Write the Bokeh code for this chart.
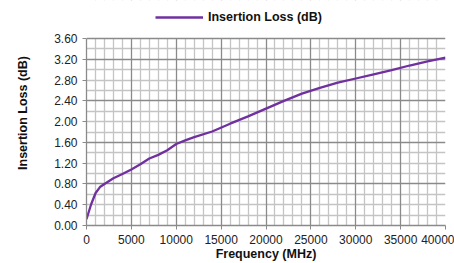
from bokeh.plotting import figure
from bokeh.models import (Range1d, FixedTicker, Grid, Legend, LegendItem, NumeralTickFormatter,
                          BoxAnnotation, Span)
from bokeh.embed import file_html
from bokeh.resources import INLINE

freq_mhz = [0, 500, 1000, 1500, 2000, 3000, 4000, 5000, 6000, 7000, 8000, 9000, 10000,
            11000, 12000, 14000, 16000, 18000, 20000, 22000, 24000, 26000, 28000,
            30000, 32000, 34000, 36000, 38000, 40000]
insertion_loss_db = [0.12, 0.40, 0.62, 0.74, 0.80, 0.91, 0.99, 1.08, 1.18, 1.29, 1.36, 1.45, 1.57,
                     1.64, 1.70, 1.81, 1.96, 2.10, 2.25, 2.40, 2.54, 2.65, 2.75,
                     2.83, 2.91, 2.99, 3.08, 3.16, 3.23]

Y_MAX = 3.6
X_MAX = 40000
y_ticks = [0.0, 0.4, 0.8, 1.2, 1.6, 2.0, 2.4, 2.8, 3.2, 3.6]
y_major_grid = [0.0, 0.8, 1.6, 2.4, 3.2]
y_minor_grid = [0.2, 0.4, 0.6, 1.0, 1.2, 1.4, 1.8, 2.0, 2.2, 2.6, 2.8, 3.0, 3.4]
x_ticks = [0, 5000, 10000, 15000, 20000, 25000, 30000, 35000, 40000]
x_minor_grid = [k * 1000 for k in range(41) if k % 5 != 0]

FONT = "Liberation Sans"
PURPLE = "#7030A0"
DARK = "#8a8a8a"
LIGHT = "#c4c4c4"

PLOT_H = 187          # pixel height of the 0..3.6 plotting area
TOP_H = 38            # pixel room above it for the legend
FRAME_H = PLOT_H + TOP_H
p = figure(frame_width=359, frame_height=FRAME_H, output_backend="svg", toolbar_location=None,
           x_range=Range1d(0, X_MAX), y_range=Range1d(0, Y_MAX * FRAME_H / PLOT_H),
           min_border_left=86, min_border_right=9, min_border_top=0, min_border_bottom=30)

p.xgrid.visible = False
p.ygrid.visible = False
p.outline_line_color = None
p.background_fill_color = "white"
p.border_fill_color = "white"

p.add_layout(Grid(dimension=0, ticker=FixedTicker(ticks=x_minor_grid),
                  grid_line_color=LIGHT, grid_line_width=1.3))
p.add_layout(Grid(dimension=1, ticker=FixedTicker(ticks=y_minor_grid),
                  grid_line_color=LIGHT, grid_line_width=1.3))
p.add_layout(Grid(dimension=0, ticker=FixedTicker(ticks=x_ticks),
                  grid_line_color=DARK, grid_line_width=1.3))
p.add_layout(Grid(dimension=1, ticker=FixedTicker(ticks=y_major_grid),
                  grid_line_color=DARK, grid_line_width=1.3))

r = p.line(freq_mhz, insertion_loss_db, line_color=PURPLE, line_width=2.3)

# white area above the plotting region (holds the legend)
p.add_layout(BoxAnnotation(bottom=Y_MAX, fill_color="white", fill_alpha=1.0,
                           line_color=None, level="annotation"))
p.add_layout(Span(location=Y_MAX, dimension="width", line_color=DARK, line_width=1.3,
                  level="annotation"))

p.xaxis.ticker = FixedTicker(ticks=x_ticks)
p.yaxis.ticker = FixedTicker(ticks=y_ticks)
p.yaxis.bounds = (0, Y_MAX)
p.yaxis.formatter = NumeralTickFormatter(format="0.00")
p.xaxis.formatter = NumeralTickFormatter(format="0")
for ax in (p.xaxis, p.yaxis):
    ax.axis_line_color = DARK
    ax.axis_line_width = 1.3
    ax.major_tick_line_color = DARK
    ax.major_tick_in = 0
    ax.major_tick_out = 4
    ax.minor_tick_line_color = None
    ax.major_label_text_font = FONT
    ax.major_label_text_font_size = "12px"
    ax.major_label_text_color = "#222222"
    ax.axis_label_text_font = FONT
    ax.axis_label_text_font_size = "12.5px"
    ax.axis_label_text_font_style = "bold"
    ax.axis_label_text_color = "#111111"

p.xaxis.axis_label = "Frequency (MHz)"
p.yaxis.axis_label = "Insertion Loss (dB)"
p.xaxis.major_label_standoff = 5
p.xaxis.axis_label_standoff = 0
p.yaxis.major_label_standoff = 5
p.yaxis.axis_label_standoff = 21

legend = Legend(items=[LegendItem(label="Insertion Loss (dB)", renderers=[r])],
                location=(69, FRAME_H - 24), orientation="horizontal",
                glyph_width=48, glyph_height=14, label_standoff=5,
                padding=0, margin=0, spacing=0,
                border_line_color=None, background_fill_alpha=0,
                label_text_font=FONT, label_text_font_size="12.5px",
                label_text_font_style="bold", label_text_color="#111111")
p.add_layout(legend, "center")

open("out.html", "w").write(file_html(p, INLINE))
